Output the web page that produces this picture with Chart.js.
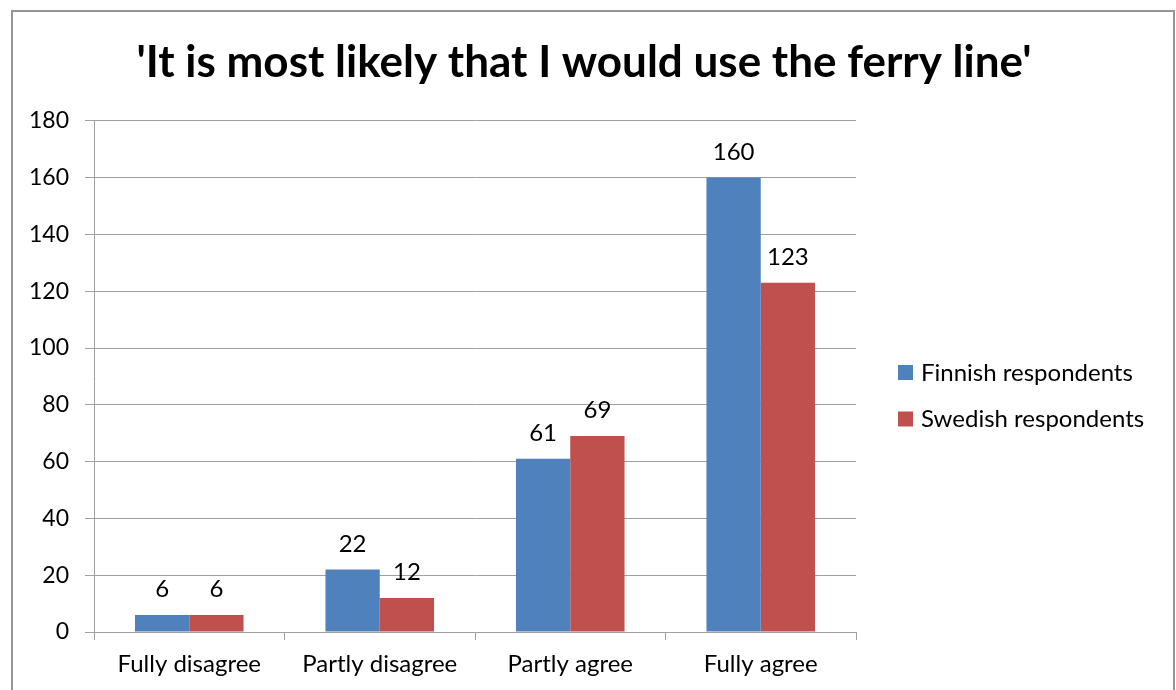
<!DOCTYPE html>
<html>
<head>
<meta charset="utf-8">
<script src="https://cdn.jsdelivr.net/npm/chart.js@4.4.1/dist/chart.umd.min.js"></script>
<style>
  html, body { margin: 0; padding: 0; background: #ffffff; }
  #wrap { position: relative; width: 1176px; height: 690px; }
</style>
</head>
<body>
<div id="wrap"><canvas id="chart" width="1176" height="690"></canvas></div>
<script>
// Survey answers: "'It is most likely that I would use the ferry line'"
const categories = ['Fully disagree', 'Partly disagree', 'Partly agree', 'Fully agree'];
const seriesNames = ['Finnish respondents', 'Swedish respondents'];
const finnishValues = [6, 22, 61, 160];
const swedishValues = [6, 12, 69, 123];
const yTicks = [0, 20, 40, 60, 80, 100, 120, 140, 160, 180];

const FONT = 'Lato, "Noto Sans", sans-serif';
const colors = ['#4F81BD', '#C0504D'];

// Outer frame around the whole chart
const framePlugin = {
  id: 'frame',
  beforeDraw(chart) {
    const ctx = chart.ctx;
    ctx.save();
    ctx.fillStyle = '#ffffff';
    ctx.fillRect(0, 0, chart.width, chart.height);
    ctx.strokeStyle = '#959595';
    ctx.lineWidth = 2;
    ctx.strokeRect(12, 11, 1162, 700);
    ctx.restore();
  }
};

// Value labels above each bar
const valueLabels = {
  id: 'valueLabels',
  afterDatasetsDraw(chart) {
    const ctx = chart.ctx;
    ctx.save();
    ctx.font = '24px ' + FONT;
    ctx.fillStyle = '#000000';
    ctx.textAlign = 'center';
    ctx.textBaseline = 'alphabetic';
    chart.data.datasets.forEach((ds, i) => {
      chart.getDatasetMeta(i).data.forEach((bar, j) => {
        ctx.fillText(String(ds.data[j]), bar.x, bar.y - 18);
      });
    });
    ctx.restore();
  }
};

// Legend on the right side, one row per series
const sideLegend = {
  id: 'sideLegend',
  afterDraw(chart) {
    const ctx = chart.ctx;
    ctx.save();
    ctx.font = '24px ' + FONT;
    ctx.textBaseline = 'middle';
    ctx.textAlign = 'left';
    chart.data.datasets.forEach((ds, i) => {
      const cy = 372 + i * 46.5;
      ctx.fillStyle = ds.backgroundColor;
      ctx.fillRect(898, cy - 7, 15, 15);
      ctx.fillStyle = '#000000';
      ctx.fillText(ds.label, 921, cy + 1);
    });
    ctx.restore();
  }
};

new Chart(document.getElementById('chart'), {
  type: 'bar',
  data: {
    labels: categories,
    datasets: [
      { label: seriesNames[0], data: finnishValues, backgroundColor: colors[0], borderWidth: 0 },
      { label: seriesNames[1], data: swedishValues, backgroundColor: colors[1], borderWidth: 0 }
    ]
  },
  options: {
    responsive: false,
    animation: false,
    devicePixelRatio: 1,
    layout: { padding: { left: 0, right: 8, top: 0, bottom: 0 } },
    datasets: { bar: { categoryPercentage: 0.57, barPercentage: 1.0 } },
    plugins: {
      legend: { display: false },
      tooltip: { enabled: false },
      title: {
        display: true,
        text: "'It is most likely that I would use the ferry line'",
        color: '#000000',
        font: { family: FONT, size: 44, weight: 'bold', lineHeight: 1.2 },
        padding: { top: 36, bottom: 32 }
      }
    },
    scales: {
      x: {
        grid: { display: true, drawOnChartArea: false, drawTicks: true, tickLength: 8, color: '#a0a0a0', offset: true },
        border: { display: true, color: '#a0a0a0', width: 1 },
        ticks: { color: '#000000', font: { family: FONT, size: 24 }, padding: 10, maxRotation: 0 },
        afterFit(scale) { scale.height = 58; }
      },
      y: {
        min: 0,
        max: 180,
        afterBuildTicks(scale) { scale.ticks = yTicks.map(v => ({ value: v })); },
        grid: { color: '#a0a0a0', drawTicks: true, tickLength: 9 },
        border: { display: true, color: '#a0a0a0', width: 1 },
        ticks: { color: '#000000', font: { family: FONT, size: 23 }, padding: 16 },
        afterFit(scale) { scale.width = 94; }
      },
      // empty strip on the right that holds the legend
      legendSpace: {
        type: 'linear',
        position: 'right',
        display: true,
        grid: { display: false, drawTicks: false },
        border: { display: false },
        ticks: { display: false },
        afterFit(scale) { scale.width = 312; }
      }
    }
  },
  plugins: [framePlugin, valueLabels, sideLegend]
});
</script>
</body>
</html>
